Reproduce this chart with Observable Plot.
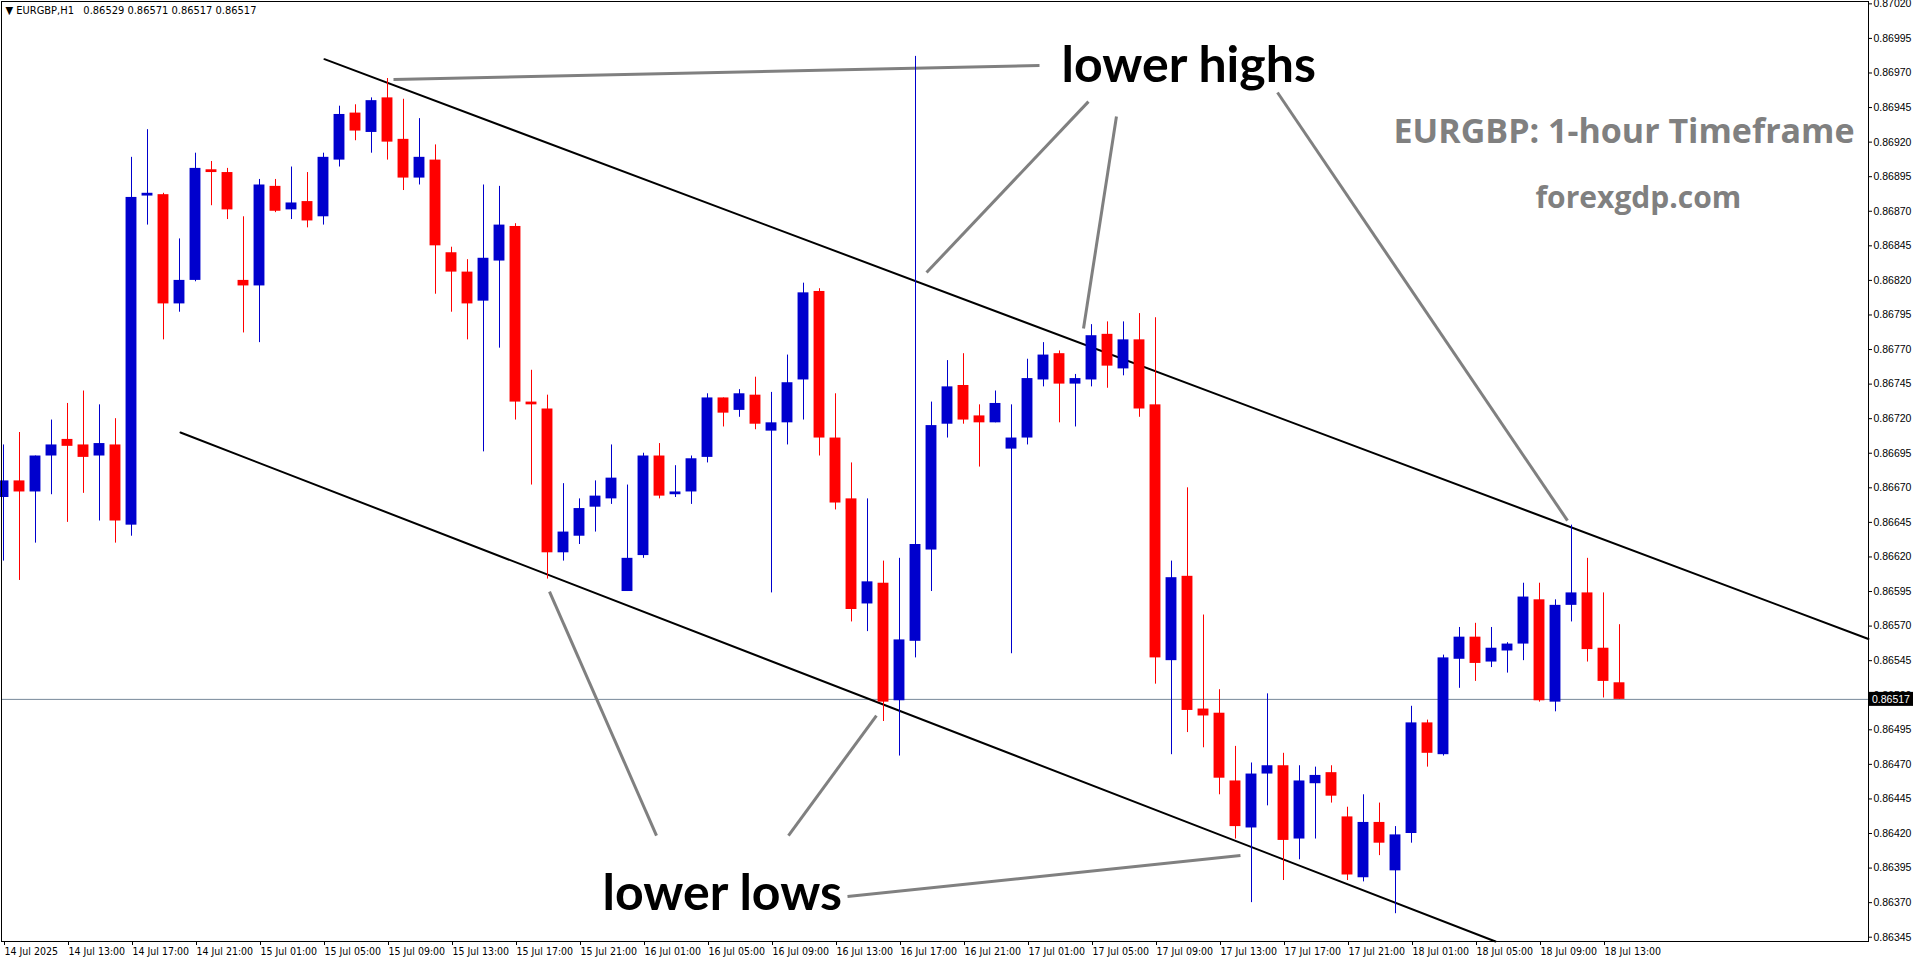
<!DOCTYPE html>
<html><head><meta charset="utf-8">
<script src="https://cdn.jsdelivr.net/npm/d3@7"></script>
<script src="https://cdn.jsdelivr.net/npm/@observablehq/plot@0.6"></script>
<style>
html,body{margin:0;padding:0;background:#fff;overflow:hidden;}
#chart{position:absolute;left:0;top:0;}
</style></head><body><div id="chart"></div>
<script>
// EURGBP H1 bars, 14 Jul 2025 09:00 .. 18 Jul 2025 14:00 (bar index 0..101)
const opens = [0.86663,0.86675,0.86667,0.86693,0.86705,0.86701,0.86693,0.86701,0.86643,0.86881,
0.86882,0.86803,0.86820,0.86900,0.86898,0.86820,0.86816,0.86888,0.86871,0.86877,
0.86866,0.86907,0.86941,0.86927,0.86952,0.86922,0.86894,0.86907,0.86840,0.86826,
0.86805,0.86834,0.86859,0.86732,0.86727,0.86623,0.86635,0.86656,0.86662,0.86595,
0.86621,0.86693,0.86665,0.86667,0.86692,0.86735,0.86726,0.86737,0.86711,0.86717,
0.86748,0.86812,0.86706,0.86662,0.86586,0.86601,0.86516,0.86559,0.86625,0.86716,
0.86744,0.86722,0.86717,0.86698,0.86706,0.86748,0.86767,0.86745,0.86748,0.86781,
0.86756,0.86777,0.86730,0.86545,0.86606,0.86510,0.86507,0.86458,0.86424,0.86463,
0.86469,0.86416,0.86456,0.86464,0.86432,0.86388,0.86428,0.86393,0.86420,0.86500,
0.86477,0.86546,0.86562,0.86544,0.86552,0.86557,0.86589,0.86515,0.86585,0.86594,
0.86554,0.86529];
const highs = [0.86701,0.86710,0.86693,0.86719,0.86731,0.86740,0.86730,0.86720,0.86909,0.86929,
0.86883,0.86850,0.86912,0.86906,0.86901,0.86866,0.86893,0.86893,0.86902,0.86898,
0.86912,0.86946,0.86947,0.86952,0.86966,0.86951,0.86937,0.86918,0.86844,0.86835,
0.86889,0.86888,0.86861,0.86755,0.86737,0.86673,0.86662,0.86675,0.86701,0.86672,
0.86695,0.86702,0.86686,0.86693,0.86738,0.86735,0.86741,0.86750,0.86739,0.86766,
0.86818,0.86814,0.86738,0.86688,0.86662,0.86617,0.86619,0.86982,0.86732,0.86762,
0.86767,0.86730,0.86740,0.86730,0.86763,0.86775,0.86769,0.86752,0.86788,0.86790,
0.86790,0.86796,0.86793,0.86617,0.86670,0.86578,0.86524,0.86483,0.86471,0.86521,
0.86478,0.86469,0.86468,0.86469,0.86439,0.86448,0.86442,0.86425,0.86512,0.86502,
0.86549,0.86569,0.86572,0.86569,0.86558,0.86601,0.86601,0.86589,0.86643,0.86619,
0.86594,0.86571];
const lows = [0.86617,0.86603,0.86630,0.86665,0.86645,0.86666,0.86646,0.86630,0.86635,0.86860,
0.86777,0.86797,0.86819,0.86874,0.86864,0.86782,0.86775,0.86869,0.86864,0.86858,
0.86860,0.86902,0.86921,0.86912,0.86907,0.86885,0.86889,0.86810,0.86797,0.86777,
0.86696,0.86771,0.86719,0.86672,0.86604,0.86617,0.86629,0.86638,0.86658,0.86595,
0.86619,0.86662,0.86663,0.86658,0.86688,0.86714,0.86721,0.86712,0.86594,0.86701,
0.86719,0.86693,0.86654,0.86573,0.86566,0.86501,0.86476,0.86547,0.86595,0.86706,
0.86716,0.86685,0.86717,0.86550,0.86701,0.86743,0.86717,0.86714,0.86743,0.86742,
0.86751,0.86721,0.86528,0.86477,0.86493,0.86482,0.86448,0.86416,0.86370,0.86440,
0.86386,0.86401,0.86416,0.86442,0.86386,0.86385,0.86404,0.86362,0.86413,0.86468,
0.86476,0.86525,0.86530,0.86540,0.86536,0.86545,0.86515,0.86508,0.86573,0.86544,
0.86518,0.86517];
const closes = [0.86675,0.86667,0.86693,0.86701,0.86700,0.86692,0.86702,0.86646,0.86880,0.86883,
0.86803,0.86820,0.86901,0.86898,0.86871,0.86816,0.86889,0.86870,0.86876,0.86863,
0.86909,0.86940,0.86928,0.86950,0.86920,0.86894,0.86909,0.86845,0.86826,0.86803,
0.86836,0.86860,0.86732,0.86730,0.86623,0.86638,0.86655,0.86664,0.86677,0.86619,
0.86693,0.86664,0.86667,0.86691,0.86735,0.86724,0.86738,0.86716,0.86717,0.86746,
0.86811,0.86706,0.86659,0.86582,0.86602,0.86515,0.86560,0.86629,0.86715,0.86743,
0.86719,0.86717,0.86731,0.86706,0.86749,0.86766,0.86745,0.86749,0.86780,0.86758,
0.86777,0.86727,0.86547,0.86605,0.86509,0.86505,0.86460,0.86425,0.86463,0.86469,
0.86415,0.86458,0.86462,0.86447,0.86390,0.86428,0.86413,0.86419,0.86500,0.86478,
0.86547,0.86562,0.86543,0.86554,0.86557,0.86591,0.86516,0.86585,0.86594,0.86553,
0.86530,0.86517];

const timeLabels = ["14 Jul 2025","14 Jul 13:00","14 Jul 17:00","14 Jul 21:00","15 Jul 01:00","15 Jul 05:00",
"15 Jul 09:00","15 Jul 13:00","15 Jul 17:00","15 Jul 21:00","16 Jul 01:00","16 Jul 05:00","16 Jul 09:00",
"16 Jul 13:00","16 Jul 17:00","16 Jul 21:00","17 Jul 01:00","17 Jul 05:00","17 Jul 09:00","17 Jul 13:00",
"17 Jul 17:00","17 Jul 21:00","18 Jul 01:00","18 Jul 05:00","18 Jul 09:00","18 Jul 13:00"];
const labelBars = [0,4,8,12,16,20,24,28,32,36,40,44,48,52,56,60,64,68,72,76,80,84,88,92,96,100];

const priceTicks = [0.86345,0.86370,0.86395,0.86420,0.86445,0.86470,0.86495,0.86520,0.86545,0.86570,
0.86595,0.86620,0.86645,0.86670,0.86695,0.86720,0.86745,0.86770,0.86795,0.86820,0.86845,0.86870,
0.86895,0.86920,0.86945,0.86970,0.86995,0.87020];

const currentPrice = 0.86517;
const header = "\u25BC EURGBP,H1\u00A0\u00A0 0.86529 0.86571 0.86517 0.86517";

// channel lines [bar, price]
const upperChannel = [[20.06,0.86980],[116.56,0.865607]];
const lowerChannel = [[11.06,0.86710],[93.25,0.863419]];
// annotation pointer lines [bar1, price1, bar2, price2]
const pointerLines = [
 [24.375,0.869653,64.75,0.869754],
 [57.69,0.868257,67.81,0.869493],
 [67.5,0.867852,69.56,0.869385],
 [79.625,0.869559,97.75,0.866463],
 [34.125,0.865950,40.8125,0.864185],
 [49.06,0.864185,54.56,0.865053],
 [52.75,0.863744,77.31,0.864041]
];
const bigLabels = [
 {text:"lower highs", bar:66.125, price:0.869638},
 {text:"lower lows", bar:37.44, price:0.863650}
];
const titleLabels = [
 {text:"EURGBP: 1-hour Timeframe", bar:86.875, price:0.869197, size:34},
 {text:"forexgdp.com", bar:95.75, price:0.868720, size:30}
];

const bars = opens.map((o,i)=>({i, open:o, high:highs[i], low:lows[i], close:closes[i],
  color: closes[i] >= o ? "#0000CD" : "#FF0000"}));
const links = pointerLines.map(d=>({x1:d[0],y1:d[1],x2:d[2],y2:d[3]}));

const plot = Plot.plot({
  width:1916, height:964,
  marginLeft:1, marginTop:1, marginRight:48, marginBottom:23,
  x:{type:"linear", domain:[-0.125,116.5625], axis:null},
  y:{type:"linear", domain:[0.863419,0.870217], axis:null},
  style:{background:"#ffffff", fontFamily:"'Liberation Sans', Arial, sans-serif", color:"#000"},
  marks:[
    Plot.ruleY([currentPrice], {stroke:"#778899", strokeWidth:1}),
    Plot.line(upperChannel, {x:d=>d[0], y:d=>d[1], stroke:"#000", strokeWidth:2}),
    Plot.line(lowerChannel, {x:d=>d[0], y:d=>d[1], stroke:"#000", strokeWidth:2}),
    Plot.link(links, {x1:"x1", y1:"y1", x2:"x2", y2:"y2", stroke:"#808080", strokeWidth:3}),
    Plot.ruleX(bars, {x:"i", y1:"low", y2:"high", stroke:"color", strokeWidth:1}),
    Plot.rect(bars, {x1:d=>d.i-0.34, x2:d=>d.i+0.34, y1:"open", y2:"close", fill:"color"}),
    Plot.text(bigLabels, {x:"bar", y:"price", text:"text", textAnchor:"start", lineAnchor:"bottom",
      fontSize:50, fontWeight:"bold", fontFamily:"Lato, sans-serif", fill:"#000"}),
    Plot.text(titleLabels, {x:"bar", y:"price", text:"text", textAnchor:"start", lineAnchor:"bottom",
      fontSize:d=>d.size, fontWeight:"bold", fontFamily:"'Open Sans', sans-serif", fill:"#808080"}),
    Plot.text([header], {frameAnchor:"top-left", text:d=>d, dx:4, dy:5, fontSize:11, fill:"#000",
      textAnchor:"start", lineAnchor:"top", fontFamily:"'DejaVu Sans Condensed','Liberation Sans',sans-serif"}),
    Plot.axisY(priceTicks, {anchor:"right", tickFormat:d=>d.toFixed(5), tickSize:3, tickPadding:2,
      fontSize:10.5, fill:"#000", stroke:"#000", fontFamily:"'Liberation Sans', sans-serif"}),
    Plot.axisX(labelBars, {anchor:"bottom", tickFormat:(d)=>timeLabels[labelBars.indexOf(d)], textAnchor:"start",
      tickSize:4, tickPadding:2, dx:1, fontSize:10.5, fill:"#000", stroke:"#000",
      fontFamily:"'Liberation Sans Narrow','DejaVu Sans Condensed',sans-serif"}),
    Plot.frame({stroke:"#000", strokeWidth:1})
  ]
});
document.getElementById("chart").appendChild(plot);

// current price tag on the right axis
const svg = d3.select(plot);
const yS = plot.scale("y");
const xS = plot.scale("x");
const yy = yS.apply(currentPrice);
const xr = xS.apply(116.5625);
const g = svg.append("g");
g.append("rect").attr("x", xr+1).attr("y", yy-7).attr("width", 44).attr("height", 14).attr("fill", "#000");
g.append("text").attr("x", xr+4).attr("y", yy+4).attr("fill", "#fff").attr("stroke", "none")
  .attr("font-size", 10.5).attr("text-anchor", "start")
  .attr("font-family", "'Liberation Sans', sans-serif").text(currentPrice.toFixed(5));
</script></body></html>
